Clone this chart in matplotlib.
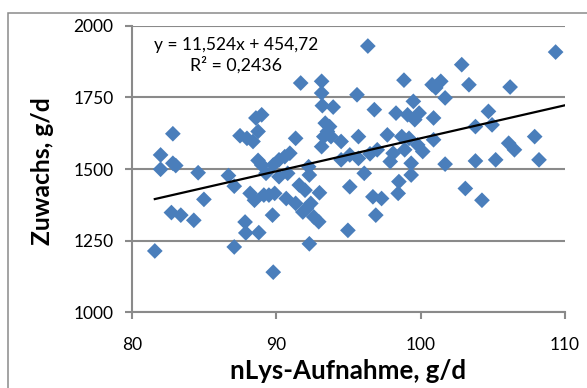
import matplotlib
matplotlib.use("Agg")
import matplotlib.pyplot as plt
from matplotlib.patches import Rectangle
import numpy as np

plt.rcParams['font.family'] = ['Lato', 'DejaVu Sans']

# Data (nLys intake, g/d ; daily gain, g/d)
nlys = [81.6, 82.0, 82.0, 82.85, 82.85, 83.05, 82.75, 83.4, 84.3, 84.6,
        85.0, 86.7, 87.1, 87.1, 87.85, 87.9, 87.5, 87.98, 88.4, 88.2,
        88.5, 88.6, 89.0, 88.75, 88.8, 88.75, 89.0, 89.3, 89.15, 89.5,
        89.8, 89.75, 89.8, 89.9, 90.2, 90.2, 90.6, 90.7, 90.95, 90.8,
        91.35, 91.35, 91.7, 91.6, 91.85, 92.0, 92.1, 92.25, 92.3, 92.4,
        92.3, 92.6, 92.95, 93.0, 93.15, 93.15, 93.2, 93.15, 93.3, 93.4,
        93.55, 93.7, 93.8, 93.95, 94.5, 94.5, 95.1, 95.1, 94.97, 95.6,
        95.7, 95.7, 96.1, 96.35, 96.5, 96.7, 96.8, 96.9, 97.0, 97.3,
        97.7, 97.9, 98.1, 98.3, 98.45, 98.5, 98.7, 98.85, 98.9, 99.1,
        99.2, 99.35, 99.35, 99.5, 99.6, 99.8, 99.9, 100.15, 100.8, 100.9,
        100.9, 101.05, 101.4, 101.7, 101.7, 102.85, 103.35, 103.1, 103.8, 103.8,
        104.25, 104.7, 104.95, 105.2, 106.1, 106.2, 106.5, 107.9, 108.2, 109.35]
gain = [1214, 1549, 1499, 1623, 1520, 1512, 1348, 1339, 1321, 1487,
        1394, 1477, 1440, 1228, 1315, 1277, 1616, 1607, 1596, 1415,
        1391, 1678, 1689, 1631, 1278, 1530, 1514, 1485, 1409, 1409,
        1514, 1339, 1140, 1415, 1473, 1532, 1543, 1397, 1555, 1485,
        1607, 1380, 1800, 1444, 1350, 1426, 1362, 1508, 1479, 1380,
        1239, 1333, 1316, 1417, 1806, 1765, 1721, 1578, 1613, 1660,
        1631, 1648, 1613, 1716, 1596, 1532, 1549, 1438, 1286, 1759,
        1613, 1537, 1485, 1929, 1553, 1403, 1707, 1339, 1567, 1397,
        1619, 1526, 1555, 1695, 1415, 1456, 1613, 1810, 1567, 1689,
        1607, 1479, 1520, 1736, 1672, 1584, 1695, 1561, 1794, 1678,
        1602, 1783, 1806, 1748, 1517, 1864, 1794, 1432, 1648, 1528,
        1391, 1701, 1654, 1532, 1590, 1786, 1567, 1613, 1532, 1908]

slope = 11.524
intercept = 454.72
r2 = 0.2436

x_ticks = [80, 90, 100, 110]
y_ticks = [1000, 1250, 1500, 1750, 2000]

W, H = 587, 388
fig = plt.figure(figsize=(W / 100, H / 100), dpi=100)
fig.patch.set_facecolor('white')

grey = '#8a8a8a'

# chart-area border (cut off at right and bottom)
fig.patches.append(Rectangle((8 / W, -0.1), 1.2, 1 - 13 / H + 0.1,
                             transform=fig.transFigure, fill=False,
                             edgecolor=grey, linewidth=1.1))

ax = fig.add_axes([131.7 / W, 1 - 312.3 / H, (565 - 131.7) / W, (312.3 - 25.7) / H])
ax.set_xlim(80, 110)
ax.set_ylim(1000, 2000)
ax.set_xticks(x_ticks)
ax.set_yticks(y_ticks)
ax.yaxis.grid(True, color=grey, linewidth=1.5)
ax.set_axisbelow(True)
for s in ['top', 'right']:
    ax.spines[s].set_visible(False)
for s in ['left', 'bottom']:
    ax.spines[s].set_color(grey)
    ax.spines[s].set_linewidth(1.5)
ax.tick_params(axis='both', direction='out', length=5, width=1.5, color=grey,
               labelsize=12.5, labelcolor='black')
ax.tick_params(axis='y', pad=8)
ax.tick_params(axis='x', pad=13)

ax.scatter(nlys, gain, marker='D', s=64, color='#4A7EBB', edgecolors='none',
           zorder=3, clip_on=False)

xl = np.array([min(nlys), 110])
ax.plot(xl, slope * xl + intercept, color='black', linewidth=1.6, zorder=4)

eq = f"y = {slope:.3f}x + {intercept:.2f}".replace('.', ',')
r2t = f"R² = {r2:.4f}".replace('.', ',')
t_eq = fig.text(236 / W, 1 - 45 / H, eq, ha='center', va='center', fontsize=10.5)
t_r2 = fig.text(236 / W, 1 - 65 / H, r2t, ha='center', va='center', fontsize=10.5)

t_y = fig.text(43 / W, 1 - 171 / H, 'Zuwachs, g/d', rotation=90, ha='center', va='center',
               fontsize=15, fontweight='bold')
t_x = fig.text(348 / W, 1 - 371 / H, 'nLys-Aufnahme, g/d', ha='center', va='center',
               fontsize=15, fontweight='bold')

# fit text sizes to the reference extents (pixels)
fig.canvas.draw()
r = fig.canvas.get_renderer()
def fit(t, target, vertical=False):
    bb = t.get_window_extent(r)
    cur = bb.height if vertical else bb.width
    t.set_fontsize(t.get_fontsize() * target / cur)
fit(t_eq, 165)
fit(t_r2, 92)
fit(t_y, 148, vertical=True)
fit(t_x, 236)

fig.savefig('out.png', dpi=100)
